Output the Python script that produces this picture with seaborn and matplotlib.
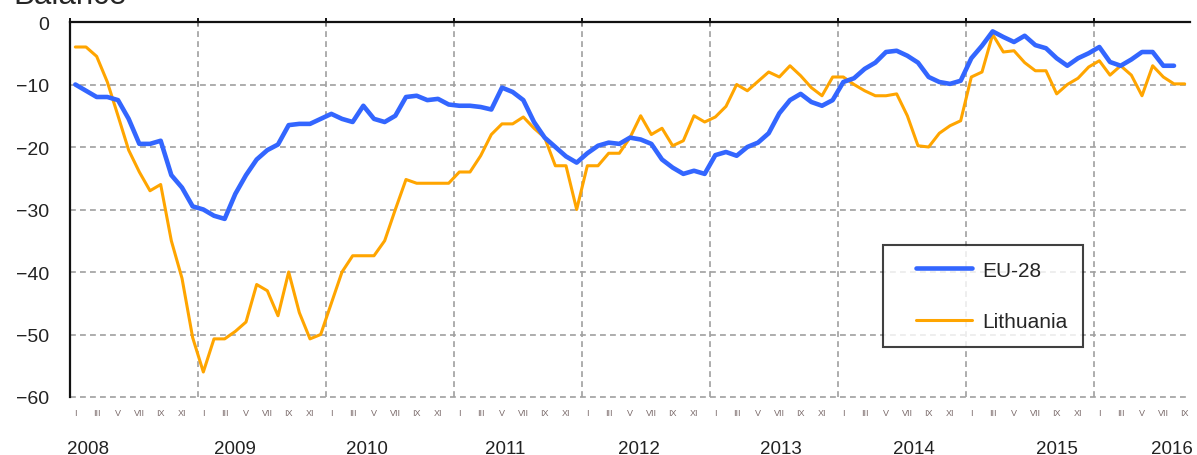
import numpy as np
import pandas as pd
import matplotlib
matplotlib.use("Agg")
import matplotlib.pyplot as plt
from matplotlib.lines import Line2D
from matplotlib.legend_handler import HandlerLine2D
import seaborn as sns

# =========================
# DATA (monthly balance, Jan 2008 onwards)
# =========================

eu28 = [-10, -11, -12, -12, -12.5, -15.5, -19.5, -19.5, -19, -24.5, -26.5, -29.5,
        -30, -31, -31.5, -27.5, -24.5, -22, -20.5, -19.6, -16.5, -16.3, -16.3, -15.5,
        -14.7, -15.5, -16, -13.4, -15.5, -16, -15, -12, -11.8, -12.5, -12.3, -13.2,
        -13.4, -13.4, -13.6, -14, -10.5, -11.2, -12.5, -16, -18.5, -20, -21.5, -22.5,
        -21, -19.8, -19.3, -19.5, -18.5, -18.8, -19.5, -22, -23.3, -24.3, -23.8, -24.3,
        -21.3, -20.8, -21.4, -20, -19.3, -17.8, -14.6, -12.5, -11.5, -12.8, -13.4, -12.5,
        -9.6, -9, -7.5, -6.5, -4.8, -4.6, -5.4, -6.5, -8.8, -9.6, -9.9, -9.4,
        -5.8, -3.8, -1.5, -2.4, -3.2, -2.2, -3.7, -4.2, -5.8, -7, -5.8, -5,
        -4, -6.4, -7, -6, -4.8, -4.8, -7, -7]

lithuania = [-4, -4, -5.5, -9.6, -15, -20.5, -24, -27, -26, -35, -41, -50.5,
             -56, -50.7, -50.7, -49.5, -48, -42, -43, -47, -40, -46.5, -50.7, -50,
             -45, -40, -37.4, -37.4, -37.4, -35, -30, -25.2, -25.8, -25.8, -25.8, -25.8,
             -24, -24, -21.4, -18, -16.3, -16.3, -15.2, -17, -18.5, -23, -23, -30,
             -23, -23, -21, -21, -18.5, -15, -18, -17, -19.8, -19, -15, -16,
             -15.2, -13.5, -10, -11, -9.5, -8, -8.8, -7, -8.6, -10.5, -11.8, -8.8,
             -8.8, -10, -11, -11.8, -11.8, -11.5, -15, -19.8, -20, -17.8, -16.6, -15.8,
             -8.8, -8, -2, -4.8, -4.6, -6.5, -7.8, -7.8, -11.5, -10, -9, -7.2,
             -6.2, -8.5, -7, -8.5, -11.8, -7, -8.8, -9.9, -9.9]

years = ["2008", "2009", "2010", "2011", "2012", "2013", "2014", "2015", "2016"]
roman = ["I", "III", "V", "VII", "IX", "XI"]
y_ticks = [0, -10, -20, -30, -40, -50, -60]

# month centre position: months since Jan 2008 + 0.5
def month_pos(periods):
    return (periods.year - 2008) * 12 + periods.month - 1 + 0.5

p_eu = pd.period_range("2008-01", periods=len(eu28), freq="M")
p_lt = pd.period_range("2008-01", periods=len(lithuania), freq="M")
df_eu = pd.DataFrame({"x": month_pos(p_eu), "value": eu28})
df_lt = pd.DataFrame({"x": month_pos(p_lt), "value": lithuania})

# =========================
# STYLE
# =========================

sns.set_style("white")
plt.rcParams["font.family"] = ["Liberation Sans", "DejaVu Sans"]

BLUE = "#3366FF"
ORANGE = "#FFA500"
GRID = "#a0a0a0"

fig = plt.figure(figsize=(11.97, 4.56), dpi=100)
ax = fig.add_axes([70 / 1197, 1 - 398 / 456, 1120 / 1197, 375 / 456])

# =========================
# LINES
# =========================

sns.lineplot(data=df_eu, x="x", y="value", color=BLUE, linewidth=3.3,
             label="EU-28", ax=ax, zorder=4)
sns.lineplot(data=df_lt, x="x", y="value", color=ORANGE, linewidth=2.2,
             label="Lithuania", ax=ax, zorder=3)

ax.set_xlim(0, 105)
ax.set_ylim(-60, 0)
ax.set_xlabel("")
ax.set_ylabel("")

# gridlines
for v in y_ticks[1:]:
    ax.axhline(v, color=GRID, lw=1.2, dashes=(3.5, 2.5), zorder=1, clip_on=False)
for k in range(1, len(years)):
    ax.axvline(12 * k, color=GRID, lw=1.2, dashes=(3.5, 2.5), zorder=1)

# spines
for s in ["right", "bottom"]:
    ax.spines[s].set_visible(False)
ax.spines["left"].set_color("#111111")
ax.spines["left"].set_linewidth(1.6)
ax.spines["top"].set_color("#111111")
ax.spines["top"].set_linewidth(1.6)

# y axis
ax.set_yticks(y_ticks)
ax.set_yticklabels([f"\u2212{abs(v)}" if v else "0" for v in y_ticks])
ax.tick_params(axis="y", length=6, width=1.4, color="#111111", pad=9,
               labelsize=14, labelcolor="#222222")

# x axis: year ticks on the top line, labels drawn by hand
ax.set_xticks([12 * k for k in range(len(years))])
ax.tick_params(axis="x", bottom=False, top=True, labeltop=False, labelbottom=False,
               direction="inout", length=6, width=1.4, color="#111111")

trans = ax.get_xaxis_transform()
for i in range(0, 105, 2):
    ax.text(i + 0.5, -0.042, roman[(i % 12) // 2], transform=trans,
            ha="center", va="center", fontsize=6.5, color="#7a6a6a")

year_label_pos = [1.7, 15.5, 27.8, 40.8, 53.3, 66.6, 79.1, 92.5, 103.3]
for yr, xp in zip(years, year_label_pos):
    ax.text(xp, -0.1493, yr, transform=trans, ha="center", va="baseline",
            fontsize=13.5, color="#222222")

# legend
leg = ax.legend(loc="upper left", bbox_to_anchor=(0.726, 0.405), fontsize=15,
                frameon=True, fancybox=False, edgecolor="#111111",
                handlelength=3.53, handletextpad=0.48, labelspacing=1.55,
                borderpad=0.75, borderaxespad=0,
                handler_map={Line2D: HandlerLine2D(xpad=0.84)})
leg.get_frame().set_linewidth(1.5)
leg.set_zorder(6)

fig.text(13 / 1197, 1 - 4 / 456, "Balance", fontsize=22.5, va="baseline", ha="left")

plt.savefig("out.png", dpi=100)
